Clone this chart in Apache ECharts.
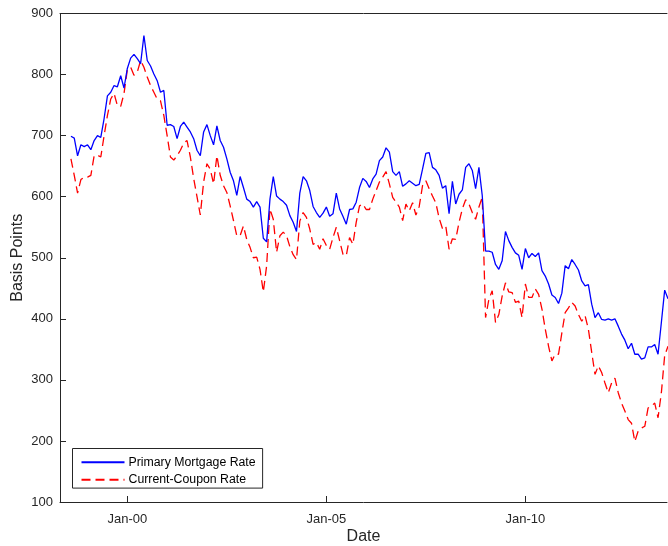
<!DOCTYPE html>
<html>
<head>
<meta charset="utf-8">
<script src="https://cdn.jsdelivr.net/npm/echarts@6/dist/echarts.min.js"></script>
<style>
html,body{margin:0;padding:0;background:#fff;}
#c{width:668px;height:546px;}
</style>
</head>
<body>
<div id="c"></div>
<script>
// Monthly observations, first month Aug 1998
const firstYear = 1998;
const firstMonth = 8; // August
const tickMonths = [0, 60, 120]; // months after Jan 2000
const tickLabels = ['Jan-00', 'Jan-05', 'Jan-10'];
const seriesNames = ['Primary Mortgage Rate', 'Current-Coupon Rate'];

const primaryRate = [
699,696,667,685,682,685,677,692,700,697,
728,765,771,782,780,798,778,810,827,833,
826,818,864,823,814,801,790,771,774,717,
718,715,695,715,722,714,706,695,676,667,
706,718,700,685,716,692,681,662,640,626,
602,633,615,596,592,583,592,583,532,526,
596,633,601,596,592,586,569,558,543,606,
633,626,610,584,574,566,573,583,568,572,
606,580,568,555,579,580,591,615,630,625,
615,629,637,659,665,680,673,641,635,641,
617,621,626,622,618,620,645,671,672,648,
644,635,614,618,572,625,588,604,611,648,
654,643,613,648,602,511,511,509,489,481,
495,543,528,517,508,504,481,515,500,507,
502,508,479,470,457,439,435,425,442,487,
482,497,489,480,462,454,456,424,402,410,
399,398,400,398,400,388,375,365,351,360,
342,342,334,336,354,354,358,342,394,447,
433
];

const couponRate = [
662,635,606,628,632,632,635,667,668,665,
700,733,760,769,749,748,769,808,812,799,
804,823,812,796,782,771,760,757,733,700,
665,660,667,676,688,692,665,630,600,570,
624,654,645,621,667,635,618,607,585,561,
536,536,552,530,517,500,501,481,444,487,
580,563,509,536,542,536,518,505,497,560,
574,566,547,522,525,514,531,520,514,533,
550,528,506,503,533,522,558,585,588,579,
579,596,610,624,632,641,621,599,591,583,
561,588,577,590,570,584,618,626,613,601,
590,565,548,552,514,531,530,558,580,595,
588,574,563,583,599,402,432,446,394,407,
437,459,444,443,427,429,402,457,435,435,
449,440,416,383,355,331,342,342,377,410,
418,427,421,407,396,405,383,345,309,323,
312,295,279,295,303,279,262,249,235,229,
199,216,221,224,254,257,262,238,279,340,
355
];

// month offset (relative to Jan 2000) of each observation
const offset0 = (firstYear - 2000) * 12 + (firstMonth - 1);
const toPairs = vals => vals.map((v, i) => [offset0 + i, v]);

const axisColor = '#262626';
const font = 'Liberation Sans, Arial, Helvetica, sans-serif';

const chart = echarts.init(document.getElementById('c'), null, {renderer: 'canvas'});
chart.setOption({
  animation: false,
  backgroundColor: '#ffffff',
  grid: {left: 60, right: 1, top: 13.5, bottom: 44, outerBoundsMode: 'none', containLabel: false},
  xAxis: [{
    type: 'value',
    min: -20.3,
    max: 162.7,
    position: 'bottom',
    name: 'Date',
    nameLocation: 'middle',
    nameGap: 27,
    nameMoveOverlap: false,
    nameTextStyle: {fontSize: 16, color: axisColor, fontFamily: font},
    axisLine: {show: true, onZero: false, lineStyle: {color: axisColor, width: 1}},
    axisTick: {show: true, inside: true, length: 6, customValues: tickMonths, lineStyle: {color: axisColor}},
    axisLabel: {
      show: true, margin: 11, fontSize: 13, color: axisColor, fontFamily: font,
      customValues: tickMonths,
      formatter: v => tickLabels[tickMonths.indexOf(Math.round(v))] || ''
    },
    splitLine: {show: false}
  }, {
    type: 'value',
    min: -20.3,
    max: 162.7,
    position: 'top',
    axisLine: {show: true, onZero: false, lineStyle: {color: axisColor, width: 1}},
    axisTick: {show: false},
    axisLabel: {show: false},
    splitLine: {show: false}
  }],
  yAxis: {
    type: 'value',
    min: 100,
    max: 900,
    interval: 100,
    name: 'Basis Points',
    nameLocation: 'middle',
    nameGap: 34,
    nameMoveOverlap: false,
    nameTextStyle: {fontSize: 16, color: axisColor, fontFamily: font},
    axisLine: {show: true, onZero: false, lineStyle: {color: axisColor, width: 1}},
    axisTick: {show: true, inside: true, length: 6, lineStyle: {color: axisColor}},
    axisLabel: {margin: 7, fontSize: 13, color: axisColor, fontFamily: font},
    splitLine: {show: false}
  },
  legend: {
    orient: 'vertical',
    left: 72.5,
    top: 448.5,
    padding: [7.7, 7, 2.3, 8],
    itemWidth: 43,
    itemHeight: 14,
    itemGap: 5.6,
    borderColor: axisColor,
    borderWidth: 1,
    backgroundColor: '#ffffff',
    itemStyle: {opacity: 0},
    textStyle: {fontSize: 12.3, color: '#000', fontFamily: font, padding: [0,0,0,-1]},
    data: seriesNames
  },
  series: [{
    name: seriesNames[0],
    type: 'line',
    data: toPairs(primaryRate),
    symbol: 'none',
    showSymbol: false,
    lineStyle: {color: '#0000ff', width: 1.3},
    itemStyle: {color: '#0000ff'},
    z: 3
  }, {
    name: seriesNames[1],
    type: 'line',
    data: toPairs(couponRate),
    symbol: 'none',
    showSymbol: false,
    lineStyle: {color: '#ff0000', width: 1.3, type: [9, 5]},
    itemStyle: {color: '#ff0000'},
    z: 2
  }]
});
</script>
</body>
</html>
